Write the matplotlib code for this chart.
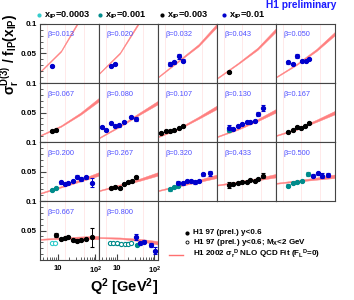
import numpy as np
import matplotlib
matplotlib.use("Agg")
import matplotlib.pyplot as plt
from matplotlib.ticker import FixedLocator, FixedFormatter, MultipleLocator, LogLocator, NullFormatter

plt.rcParams['font.family'] = ['Liberation Sans', 'DejaVu Sans']
plt.rcParams['mathtext.fontset'] = 'custom'
plt.rcParams['mathtext.rm'] = 'Liberation Sans:bold'
plt.rcParams['mathtext.it'] = 'Liberation Sans:bold'
plt.rcParams['mathtext.bf'] = 'Liberation Sans:bold'

# beta bins, one panel each
betas = [0.013, 0.020, 0.032, 0.043, 0.050,
         0.067, 0.080, 0.107, 0.130, 0.167,
         0.200, 0.267, 0.320, 0.433, 0.500,
         0.667, 0.800]

xip_labels = ["0.0003", "0.001", "0.003", "0.01"]
xip_colors = ["#33cccc", "#008b8b", "black", "#0000cc"]

# data points: panel index, Q2, value, error, x_IP index, open marker
pt_panel = [0,
            1, 1,
            2, 2, 2, 2,
            3,
            4, 4, 4, 4, 4, 4,
            5, 5,
            6, 6, 6, 6, 6, 6, 6, 6,
            7, 7, 7, 7, 7, 7,
            8, 8, 8, 8, 8, 8, 8, 8, 8, 8,
            9, 9, 9, 9, 9, 9,
            10, 10, 10, 10, 10, 10, 10, 10, 10, 10,
            11, 11, 11, 11, 11, 11, 11,
            12, 12, 12, 12, 12, 12, 12, 12, 12, 12, 12,
            13, 13, 13, 13, 13, 13, 13, 13, 13,
            14, 14, 14, 14, 14, 14, 14, 14, 14,
            15, 15, 15, 15, 15, 15, 15, 15, 15, 15, 15,
            16, 16, 16, 16, 16, 16, 16, 16, 16, 16, 16, 16, 16]
pt_q2 = [7.0,
         6.8, 8.9,
         6.9, 9.0, 12.2, 15.4,
         6.9,
         7.0, 9.2, 12.2, 16.0, 20.5, 25.6,
         6.8, 8.9,
         3.9, 5.1, 6.8, 8.9, 11.5, 15.4, 23.6, 32.0,
         4.0, 5.4, 6.9, 8.9, 12.0, 15.5,
         6.9, 6.9, 9.0, 12.2, 15.0, 20.5, 25.0, 34.0, 42.0, 55.0,
         7.0, 9.2, 12.2, 15.4, 19.6, 25.0,
         6.8, 8.9, 12.0, 15.4, 18.8, 24.6, 32.7, 42.5, 55.8, 79.0,
         6.8, 8.9, 12.0, 15.4, 20.0, 24.6, 32.0,
         6.9, 8.9, 11.5, 11.5, 15.0, 20.0, 24.6, 32.0, 42.0, 53.5, 80.7,
         6.9, 9.0, 12.2, 15.6, 20.5, 25.0, 34.0, 42.0, 55.0,
         7.0, 9.2, 12.2, 16.0, 24.0, 32.7, 42.6, 57.0, 82.0,
         6.8, 8.3, 8.9, 12.0, 15.4, 18.8, 24.6, 32.7, 42.5, 55.8, 79.0,
         6.5, 8.0, 10.2, 12.6, 16.3, 20.0, 23.6, 33.5, 32.0, 41.0, 52.5, 79.0, 103.0]
pt_val = [0.029,
          0.029, 0.032,
          0.032, 0.035, 0.045, 0.038,
          0.019,
          0.035, 0.032, 0.046, 0.037, 0.037, 0.041,
          0.019, 0.020,
          0.025, 0.020, 0.032, 0.027, 0.028, 0.034, 0.042, 0.039,
          0.016, 0.018, 0.019, 0.020, 0.023, 0.027,
          0.0195, 0.024, 0.0225, 0.027, 0.0305, 0.034, 0.0344, 0.0356, 0.0475, 0.057,
          0.0175, 0.020, 0.025, 0.023, 0.0276, 0.0327,
          0.0186, 0.0215, 0.0317, 0.0288, 0.030, 0.034, 0.0412, 0.0373, 0.040, 0.031,
          0.0215, 0.0243, 0.0226, 0.0283, 0.0327, 0.0339, 0.040,
          0.0198, 0.0232, 0.026, 0.031, 0.0299, 0.0339, 0.0339, 0.0316, 0.0339, 0.045, 0.047,
          0.027, 0.0288, 0.030, 0.0317, 0.0317, 0.0356, 0.0344, 0.0373, 0.0429,
          0.026, 0.030, 0.0317, 0.0339, 0.046, 0.043, 0.047, 0.043, 0.044,
          0.0293, 0.0293, 0.0424, 0.0351, 0.0368, 0.0385, 0.0339, 0.0328, 0.0339, 0.0356, 0.0385,
          0.0288, 0.0288, 0.028, 0.027, 0.027, 0.0277, 0.0288, 0.0254, 0.0385, 0.028, 0.031, 0.0254, 0.0158]
pt_err = [0.002,
          0.002, 0.002,
          0.003, 0.002, 0.004, 0.002,
          0.0015,
          0.002, 0.002, 0.003, 0.002, 0.002, 0.002,
          0.0015, 0.0015,
          0.002, 0.002, 0.002, 0.002, 0.002, 0.002, 0.002, 0.003,
          0.0015, 0.0015, 0.0015, 0.0015, 0.0015, 0.0015,
          0.002, 0.005, 0.002, 0.002, 0.002, 0.002, 0.002, 0.002, 0.004, 0.005,
          0.0015, 0.0015, 0.0015, 0.0015, 0.0015, 0.0015,
          0.002, 0.002, 0.003, 0.002, 0.002, 0.002, 0.003, 0.003, 0.003, 0.008,
          0.0015, 0.0015, 0.0015, 0.0015, 0.0015, 0.0015, 0.002,
          0.003, 0.002, 0.002, 0.003, 0.002, 0.002, 0.002, 0.002, 0.002, 0.003, 0.004,
          0.005, 0.002, 0.002, 0.002, 0.002, 0.002, 0.002, 0.002, 0.004,
          0.003, 0.002, 0.002, 0.002, 0.003, 0.003, 0.003, 0.004, 0.004,
          0.002, 0.002, 0.004, 0.002, 0.002, 0.002, 0.002, 0.002, 0.002, 0.002, 0.016,
          0.002, 0.002, 0.002, 0.002, 0.002, 0.002, 0.002, 0.002, 0.005, 0.003, 0.003, 0.004, 0.006]
pt_xip = [3,
          3, 3,
          3, 3, 3, 3,
          2,
          3, 3, 3, 3, 3, 3,
          2, 2,
          3, 3, 3, 3, 3, 3, 3, 3,
          2, 2, 2, 2, 2, 2,
          1, 3, 3, 3, 3, 3, 3, 3, 3, 3,
          2, 2, 2, 2, 2, 2,
          1, 1, 3, 3, 3, 3, 3, 3, 3, 3,
          2, 2, 2, 2, 2, 2, 2,
          1, 1, 1, 3, 3, 3, 3, 3, 3, 3, 3,
          2, 2, 2, 2, 2, 2, 2, 2, 2,
          1, 1, 1, 1, 1, 3, 3, 3, 3,
          0, 0, 2, 2, 2, 2, 2, 2, 2, 2, 2,
          1, 1, 1, 1, 1, 1, 1, 1, 3, 3, 3, 3, 3]
# open markers: the M_X < 2 GeV points (only in the two highest beta bins)
pt_open = [0] * 92 + \
          [1, 1, 0, 0, 0, 0, 0, 0, 0, 0, 0] + \
          [1, 1, 1, 1, 1, 1, 1, 0, 0, 0, 0, 0, 0]

# NLO QCD fit at a few Q2 nodes, per panel
fit_q2 = [3.3, 12.0, 40.0, 125.0]
fit_val = [[0.019, 0.054, 0.110, 0.19],
           [0.016, 0.051, 0.104, 0.17],
           [0.010, 0.038, 0.064, 0.098],
           [0.008, 0.033, 0.058, 0.090],
           [0.010, 0.032, 0.056, 0.084],
           [0.011, 0.027, 0.048, 0.072],
           [0.007, 0.027, 0.048, 0.067],
           [0.009, 0.023, 0.041, 0.059],
           [0.009, 0.022, 0.037, 0.053],
           [0.011, 0.022, 0.036, 0.050],
           [0.013, 0.024, 0.035, 0.046],
           [0.0175, 0.027, 0.036, 0.046],
           [0.0175, 0.026, 0.034, 0.042],
           [0.027, 0.032, 0.037, 0.043],
           [0.030, 0.034, 0.038, 0.042],
           [0.035, 0.037, 0.038, 0.038],
           [0.038, 0.037, 0.034, 0.029]]
fit_half = [0.0009, 0.0012, 0.0019, 0.003]
vlines = [5.0, 15.0, 50.0]

pt_panel = np.array(pt_panel)
W, H = 354, 300
fig = plt.figure(figsize=(W / 100, H / 100), dpi=100)

for i, b in enumerate(betas):
    r, c = divmod(i, 5)
    ax = fig.add_axes([(40 + 59 * c) / W, 1 - (24 + 59 * (r + 1)) / H, 59 / W, 59 / H])
    ax.set_xscale('log')
    ax.set_xlim(3.3, 125)
    ax.set_ylim(0, 0.1)
    for v in vlines:
        ax.axvline(v, color='#ffe0e0', lw=0.5, zorder=0)
    f = np.array(fit_val[i])
    hw = np.array(fit_half)
    ax.fill_between(fit_q2, f - hw, f + hw, color='#ff8080', lw=0.3, ec='#ff8080', zorder=1)
    for k in np.where(pt_panel == i)[0]:
        col = xip_colors[pt_xip[k]]
        ax.errorbar(pt_q2[k], pt_val[k], yerr=pt_err[k], fmt='o', color=col,
                    mfc='white' if pt_open[k] else col, mec=col, ms=3.0, mew=0.8,
                    elinewidth=0.7, capsize=1.2, capthick=0.7, zorder=3)
    ax.text(8 / 59, 1 - 11 / 59, "β=%.3f" % b, transform=ax.transAxes,
            ha='left', va='center', fontsize=5.3, color='#5050ff')
    for s in ax.spines.values():
        s.set_color('#444444')
        s.set_linewidth(0.8)
    ax.tick_params(which='both', direction='in', left=False, bottom=False,
                   labelleft=False, labelbottom=False)
    if c == 0:
        ax.yaxis.set_major_locator(FixedLocator([0.05, 0.1]))
        ax.yaxis.set_major_formatter(FixedFormatter(["0.05", "0.1"]))
        ax.yaxis.set_minor_locator(MultipleLocator(0.01))
        ax.tick_params(axis='y', which='both', left=True, labelleft=True, pad=2.5,
                       labelsize=5.8, color='#444444')
        ax.tick_params(axis='y', which='major', length=4)
        ax.tick_params(axis='y', which='minor', length=2)
        for t in ax.get_yticklabels():
            t.set_fontweight('bold')
    if r == 3:
        ax.xaxis.set_major_locator(FixedLocator([10, 100]))
        ax.xaxis.set_major_formatter(FixedFormatter(["10", "10$^2$"]))
        ax.xaxis.set_minor_locator(LogLocator(base=10, subs=np.arange(2, 10)))
        ax.xaxis.set_minor_formatter(NullFormatter())
        ax.tick_params(axis='x', which='both', bottom=True, labelbottom=True, pad=3.5,
                       labelsize=5.5, color='#444444')
        ax.tick_params(axis='x', which='major', length=4)
        ax.tick_params(axis='x', which='minor', length=2)
        for t in ax.get_xticklabels():
            t.set_fontweight('bold')

# overlay for legends and labels in pixel units
lax = fig.add_axes([0, 0, 1, 1])
lax.set_xlim(0, W)
lax.set_ylim(H, 0)
lax.axis('off')

for j, (lab, col) in enumerate(zip(xip_labels, xip_colors)):
    x0 = [39, 100, 162, 224][j]
    lax.plot([x0], [15], 'o', color=col, ms=2.0)
    lax.text(x0 + 5, 15, "x$_{IP}$=" + lab, ha='left', va='center',
             fontsize=6.6, fontweight='bold')

lax.text(336, 5, "H1 preliminary", ha='right', va='center', fontsize=7.3,
         fontweight='bold', color='#1a1aff')

lax.plot([187], [233], 'o', color='black', ms=2.0)
lax.text(193, 233, "H1 97 (prel.) y<0.6", ha='left', va='center', fontsize=5.8, fontweight='bold')
lax.plot([187], [242], 'o', color='black', mfc='white', ms=2.2, mew=0.6)
lax.text(193, 242, "H1 97 (prel.) y<0.6; M$_X$<2 GeV", ha='left', va='center',
         fontsize=5.8, fontweight='bold')
lax.plot([169, 183], [254.5, 254.5], color='#ff7070', lw=1)
lax.text(193, 254, "H1 2002 σ$_r$$^D$ NLO QCD Fit (F$_L$$^D$=0)", ha='left', va='center',
         fontsize=5.8, fontweight='bold')

lax.text(158, 287, "Q$^2$ [GeV$^2$]", ha='right', va='center', fontsize=10.5, fontweight='bold')
lax.text(10, 14, "σ$_r^{D(3)}$ / f$_{IP}$(x$_{IP}$)", rotation=90, ha='center', va='top',
         fontsize=9.8, fontweight='bold')

fig.savefig("out.png", dpi=100)
